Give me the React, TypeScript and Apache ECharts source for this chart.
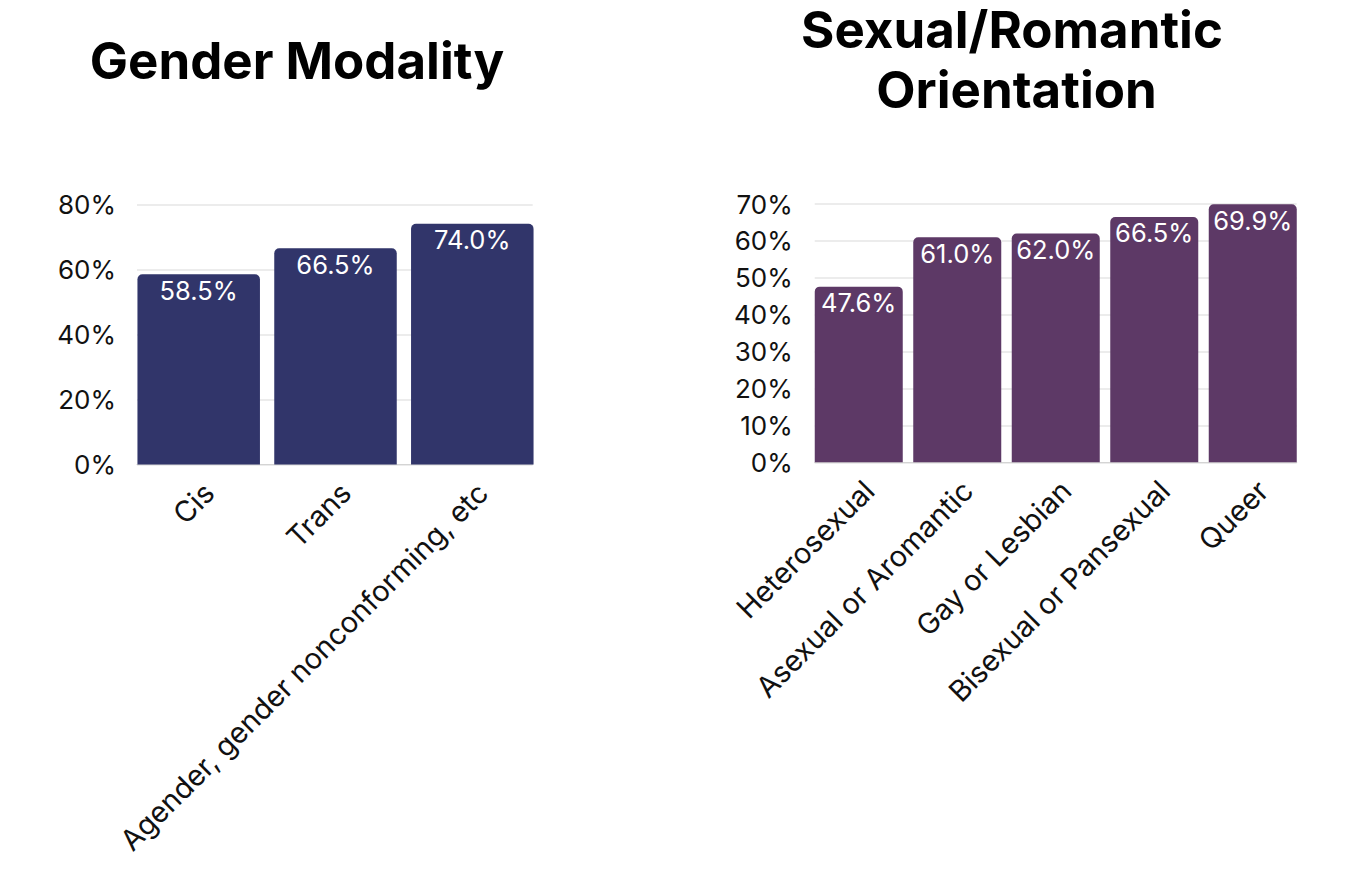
import React, { useEffect, useRef } from "react";
import * as echarts from "echarts";

const genderCategories = ["Cis", "Trans", "Agender, gender nonconforming, etc"];
const genderValues = [58.5, 66.5, 74.0];
const genderTicks = { min: 0, max: 80, interval: 20 };

const orientationCategories = [
  "Heterosexual",
  "Asexual or Aromantic",
  "Gay or Lesbian",
  "Bisexual or Pansexual",
  "Queer",
];
const orientationValues = [47.6, 61.0, 62.0, 66.5, 69.9];
const orientationTicks = { min: 0, max: 70, interval: 10 };

const FONT = "Inter, 'Open Sans', sans-serif";
const NAVY = "#31356a";
const PURPLE = "#5d3966";

export default function App() {
  const ref = useRef<HTMLDivElement>(null);
  useEffect(() => {
    document.body.style.margin = "0";
    const chart = echarts.init(ref.current!, null, { renderer: "svg" });
    const valueLabel = {
      show: true,
      position: "insideTop",
      distance: 3,
      color: "#fff",
      fontFamily: FONT,
      fontSize: 25.5,
      formatter: (p: any) => p.value.toFixed(1) + "%",
    };
    const titleStyle = (text: string) => ({
      text,
      fill: "#000",
      font: `bold 51px ${FONT}`,
      textAlign: "center",
      textVerticalAlign: "middle",
    });
    const panels = [
      {
        cats: genderCategories,
        ticks: genderTicks,
        // grid spanning the bars' outer edges (gridlines, y labels)
        inner: { left: 137, top: 204.3, width: 395.7, height: 260.2 },
        // grid holding the category bands
        outer: { left: 130.3, top: 204.3, width: 410.4, height: 260.2 },
        labelMargin: 21,
      },
      {
        cats: orientationCategories,
        ticks: orientationTicks,
        inner: { left: 814.7, top: 204, width: 482, height: 258.3 },
        outer: { left: 809.5, top: 204, width: 492.5, height: 258.3 },
        labelMargin: 22,
      },
    ];
    const grid: any[] = [];
    const xAxis: any[] = [];
    const yAxis: any[] = [];
    panels.forEach((p, i) => {
      const gA = i * 2;
      const gB = i * 2 + 1;
      grid[gA] = p.inner;
      grid[gB] = p.outer;
      // Grid A: gridlines, axis line, y labels
      xAxis[gA] = {
        type: "category",
        gridIndex: gA,
        data: p.cats,
        axisLine: { lineStyle: { color: "#d4d4d4", width: 1.2 } },
        axisTick: { show: false },
        axisLabel: { show: false },
      };
      yAxis[gA] = {
        type: "value",
        gridIndex: gA,
        min: p.ticks.min,
        max: p.ticks.max,
        interval: p.ticks.interval,
        axisLine: { show: false },
        axisTick: { show: false },
        splitLine: { lineStyle: { color: "#e6e6e6", width: 1.5 } },
        axisLabel: {
          color: "#111",
          fontFamily: FONT,
          fontSize: 26,
          margin: p.labelMargin,
          formatter: "{value}%",
        },
      };
      // Grid B: bars and category labels
      xAxis[gB] = {
        type: "category",
        gridIndex: gB,
        data: p.cats,
        axisLine: { show: false },
        axisTick: { show: false },
        axisLabel: {
          color: "#111",
          fontFamily: FONT,
          fontSize: 29,
          rotate: 45,
          interval: 0,
          margin: 13,
          verticalAlign: "top",
        },
      };
      yAxis[gB] = {
        type: "value",
        gridIndex: gB,
        min: p.ticks.min,
        max: p.ticks.max,
        interval: p.ticks.interval,
        show: false,
        splitLine: { show: false },
      };
    });
    chart.setOption({
      animation: false,
      backgroundColor: "#fff",
      graphic: [
        { type: "text", x: 297, y: 60, style: titleStyle("Gender Modality") },
        { type: "text", x: 1012, y: 29, style: titleStyle("Sexual/Romantic") },
        { type: "text", x: 1016.5, y: 89, style: titleStyle("Orientation") },
      ],
      grid,
      xAxis,
      yAxis,
      series: [
        {
          type: "bar",
          xAxisIndex: 1,
          yAxisIndex: 1,
          data: genderValues,
          barWidth: 122.5,
          itemStyle: { color: NAVY, borderRadius: [5, 5, 0, 0] },
          label: valueLabel,
        },
        {
          type: "bar",
          xAxisIndex: 3,
          yAxisIndex: 3,
          data: orientationValues,
          barWidth: 88,
          itemStyle: { color: PURPLE, borderRadius: [5, 5, 0, 0] },
          label: valueLabel,
        },
      ],
    });
    return () => chart.dispose();
  }, []);
  return <div ref={ref} style={{ width: 1352, height: 896 }} />;
}
